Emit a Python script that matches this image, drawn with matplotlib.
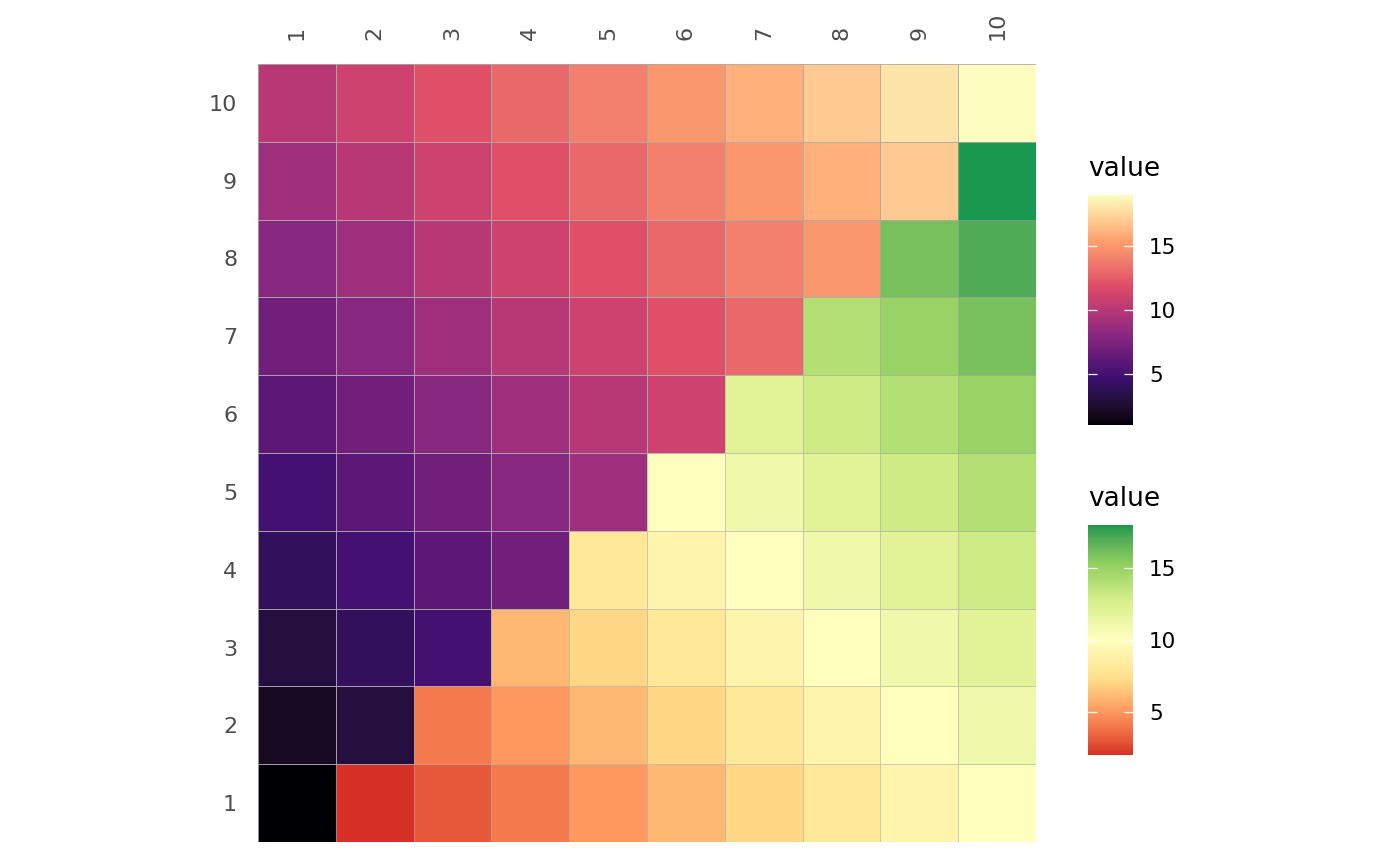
import numpy as np
import matplotlib
matplotlib.use("Agg")
import matplotlib.pyplot as plt
from matplotlib import cm, colors

# --- data ---
x_labels = [str(i) for i in range(1, 11)]
y_labels = [str(i) for i in range(1, 11)]

# cell values, rows = y (1..10 from bottom), cols = x (1..10)
values = [
    [1, 2, 3, 4, 5, 6, 7, 8, 9, 10],
    [2, 3, 4, 5, 6, 7, 8, 9, 10, 11],
    [3, 4, 5, 6, 7, 8, 9, 10, 11, 12],
    [4, 5, 6, 7, 8, 9, 10, 11, 12, 13],
    [5, 6, 7, 8, 9, 10, 11, 12, 13, 14],
    [6, 7, 8, 9, 10, 11, 12, 13, 14, 15],
    [7, 8, 9, 10, 11, 12, 13, 14, 15, 16],
    [8, 9, 10, 11, 12, 13, 14, 15, 16, 17],
    [9, 10, 11, 12, 13, 14, 15, 16, 17, 18],
    [10, 11, 12, 13, 14, 15, 16, 17, 18, 19],
]
legend_ticks = [5, 10, 15]

# palette anchors (ggplot style: few colours, interpolated in Lab)
magma_anchors = ["#000004", "#3B0F70", "#8C2981", "#DE4968", "#FE9F6D", "#FCFDBF"]
rdylgn_anchors = ["#D73027", "#FC8D59", "#FEE08B", "#FFFFBF", "#D9EF8B", "#91CF60", "#1A9850"]

# --- config ---
W, H = 1400, 865
EDGE = (0.67, 0.67, 0.67, 0.6)
TICK_GRAY = "#4d4d4d"

M = np.array([[0.4124, 0.3576, 0.1805],
              [0.2126, 0.7152, 0.0722],
              [0.0193, 0.1192, 0.9505]])
WHITE = np.array([0.95047, 1.0, 1.08883])


def rgb_to_lab(rgb):
    c = np.where(rgb <= 0.04045, rgb / 12.92, ((rgb + 0.055) / 1.055) ** 2.4)
    xyz = c @ M.T / WHITE
    f = np.where(xyz > 216 / 24389, np.cbrt(xyz), (24389 / 27 * xyz + 16) / 116)
    return np.stack([116 * f[:, 1] - 16, 500 * (f[:, 0] - f[:, 1]),
                     200 * (f[:, 1] - f[:, 2])], axis=1)


def lab_to_rgb(lab):
    fy = (lab[:, 0] + 16) / 116
    fx = fy + lab[:, 1] / 500
    fz = fy - lab[:, 2] / 200
    f = np.stack([fx, fy, fz], axis=1)
    xyz = np.where(f ** 3 > 216 / 24389, f ** 3, (116 * f - 16) / (24389 / 27)) * WHITE
    c = xyz @ np.linalg.inv(M).T
    c = np.clip(c, 0, 1)
    rgb = np.where(c <= 0.0031308, 12.92 * c, 1.055 * c ** (1 / 2.4) - 0.055)
    return np.clip(rgb, 0, 1)


def lab_cmap(name, anchors, n=256):
    lab = rgb_to_lab(np.array([colors.to_rgb(a) for a in anchors]))
    pos = np.linspace(0, 1, len(anchors))
    t = np.linspace(0, 1, n)
    out = np.stack([np.interp(t, pos, lab[:, k]) for k in range(3)], axis=1)
    return colors.ListedColormap(lab_to_rgb(out), name=name)


magma_gg = lab_cmap("magma_gg", magma_anchors)
rdylgn_gg = lab_cmap("rdylgn_gg", rdylgn_anchors)

vals = np.array(values, dtype=float)
n = vals.shape[0]
yy, xx = np.mgrid[1:n + 1, 1:n + 1]
upper = np.ma.masked_where(xx > yy, vals)    # y >= x -> magma
lower = np.ma.masked_where(xx <= yy, vals)   # x > y  -> RdYlGn

fig = plt.figure(figsize=(W / 100, H / 100), dpi=100)
ax = fig.add_axes([258 / W, 1 - 842 / H, 778 / W, 778 / H])

edges = np.arange(0.5, n + 1.5, 1)
norm_up = colors.Normalize(vmin=upper.min(), vmax=upper.max())
norm_lo = colors.Normalize(vmin=lower.min(), vmax=lower.max())
ax.pcolormesh(edges, edges, upper, cmap=magma_gg, norm=norm_up,
              edgecolors=EDGE, linewidth=0.7)
ax.pcolormesh(edges, edges, lower, cmap=rdylgn_gg, norm=norm_lo,
              edgecolors=EDGE, linewidth=0.7)

ax.set_xlim(0.5, n + 0.5)
ax.set_ylim(0.5, n + 0.5)
ax.set_xticks(range(1, n + 1))
ax.set_xticklabels(x_labels, rotation=90)
ax.set_yticks(range(1, n + 1))
ax.set_yticklabels(y_labels)
ax.xaxis.tick_top()
ax.tick_params(axis="x", length=0, pad=17, labelsize=16, labelcolor=TICK_GRAY)
ax.tick_params(axis="y", length=0, pad=15, labelsize=16, labelcolor=TICK_GRAY)
for s in ax.spines.values():
    s.set_visible(False)


def add_legend(cmap, norm, bar_top, title_base):
    cax = fig.add_axes([1088 / W, 1 - (bar_top + 230) / H, 45 / W, 230 / H])
    sm = cm.ScalarMappable(norm=norm, cmap=cmap)
    cb = fig.colorbar(sm, cax=cax, ticks=legend_ticks)
    cb.outline.set_visible(False)
    cax.tick_params(which="major", direction="in", length=6.5, width=0.9,
                    color="white", left=True, right=True,
                    labelleft=False, labelright=True, labelsize=15.5,
                    labelcolor="black", pad=11.5)
    cax.minorticks_off()
    fig.text(1088 / W, 1 - title_base / H, "value", ha="left", va="baseline",
             fontsize=19, color="black")


add_legend(magma_gg, norm_up, 195, 176)
add_legend(rdylgn_gg, norm_lo, 525, 506)

fig.savefig("out.png", dpi=100)
